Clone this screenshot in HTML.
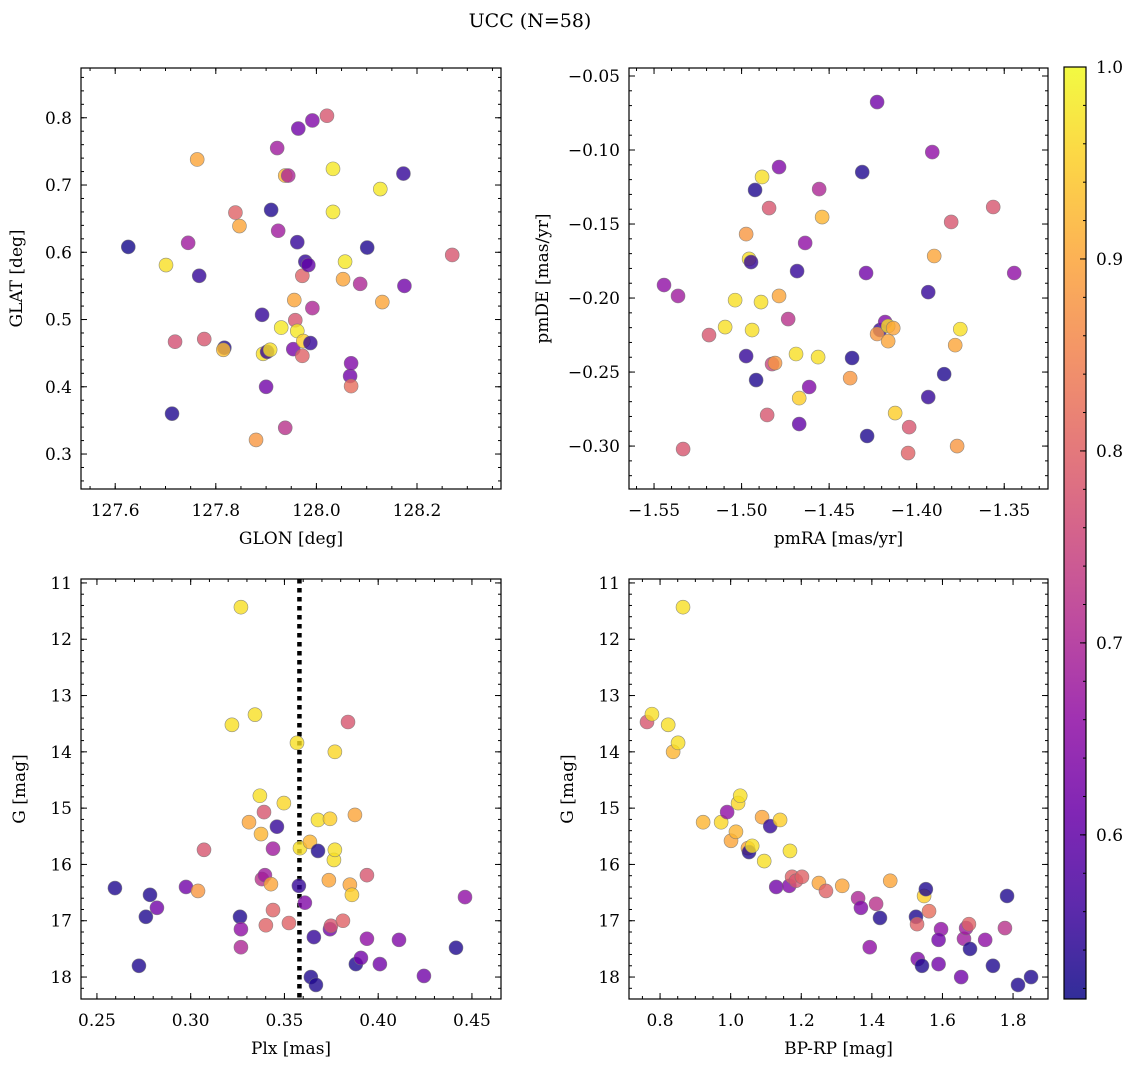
<!DOCTYPE html>
<html><head><meta charset="utf-8"><style>
body{margin:0;background:#fff;}
svg{display:block;font-family:"DejaVu Serif","Liberation Serif",serif;}
</style></head><body>
<svg id="fig" width="1136" height="1067" xmlns="http://www.w3.org/2000/svg">
<text x="530" y="27" font-size="19" text-anchor="middle">UCC (N=58)</text>
</svg>
<script>
// Panel 1: GLON / GLAT
const p1Lon=[127.626,127.701,127.713,127.745,127.719,127.767,127.763,127.777,127.817,127.815,127.839,127.847,127.880,127.894,127.892,127.902,127.908,127.900,127.910,127.922,127.924,127.930,127.938,127.944,127.938,127.954,127.956,127.958,127.962,127.964,127.962,127.972,127.972,127.974,127.978,127.984,127.988,127.992,127.992,128.021,128.033,128.033,128.053,128.057,128.067,128.069,128.069,128.087,128.101,128.127,128.131,128.173,128.175,128.270];
const p1Lat=[0.608,0.581,0.360,0.614,0.467,0.565,0.738,0.471,0.458,0.455,0.659,0.639,0.321,0.449,0.507,0.452,0.455,0.400,0.663,0.755,0.632,0.488,0.714,0.714,0.339,0.456,0.529,0.499,0.615,0.784,0.483,0.565,0.446,0.468,0.586,0.581,0.465,0.796,0.517,0.803,0.724,0.660,0.560,0.586,0.416,0.435,0.401,0.553,0.607,0.694,0.526,0.717,0.550,0.596];
const p1Prob=[.52,.97,.53,.68,.77,.55,.90,.78,.53,.93,.80,.90,.88,.97,.55,.55,.97,.62,.53,.68,.68,.98,.92,.70,.72,.63,.90,.78,.55,.62,.98,.80,.80,.95,.55,.60,.55,.64,.70,.78,.98,.98,.90,.98,.62,.64,.82,.70,.53,.98,.90,.55,.62,.78];
// Panel 2: pmRA / pmDE
const p2RA=[-1.5443,-1.5363,-1.5334,-1.5186,-1.5094,-1.5037,-1.4974,-1.4957,-1.4946,-1.4974,-1.4940,-1.4923,-1.4917,-1.4883,-1.4889,-1.4854,-1.4843,-1.4826,-1.4809,-1.4786,-1.4786,-1.4734,-1.4689,-1.4683,-1.4671,-1.4671,-1.4637,-1.4614,-1.4563,-1.4557,-1.4540,-1.4380,-1.4369,-1.4311,-1.4289,-1.4283,-1.4226,-1.4209,-1.4226,-1.4180,-1.4163,-1.4163,-1.4134,-1.4123,-1.4043,-1.4049,-1.3934,-1.3934,-1.3911,-1.3803,-1.3780,-1.3769,-1.3751,-1.3900,-1.3843,-1.3563,-1.3443];
const p2DE=[-0.1912,-0.1986,-0.302,-0.225,-0.2196,-0.2014,-0.1568,-0.1736,-0.1757,-0.2392,-0.2216,-0.127,-0.2554,-0.1182,-0.2027,-0.279,-0.1392,-0.2446,-0.2439,-0.1986,-0.1115,-0.2142,-0.2378,-0.1818,-0.2676,-0.2851,-0.1628,-0.2601,-0.2399,-0.1264,-0.1453,-0.2541,-0.2405,-0.1149,-0.1831,-0.2932,-0.0676,-0.2216,-0.2243,-0.2162,-0.2291,-0.2189,-0.2203,-0.2777,-0.2872,-0.3047,-0.2669,-0.196,-0.1014,-0.1486,-0.2318,-0.300,-0.221,-0.1716,-0.2514,-0.1385,-0.1831];
const p2Prob=[.66,.68,.78,.78,.97,.97,.88,.97,.55,.55,.97,.53,.53,.97,.97,.78,.78,.75,.88,.90,.64,.72,.97,.55,.95,.60,.66,.64,.97,.70,.92,.88,.53,.53,.62,.53,.62,.55,.88,.64,.90,.97,.90,.95,.78,.80,.55,.55,.66,.78,.90,.88,.97,.90,.53,.78,.66];
// Panel 3: Plx / G
const p3Plx=[0.2596,0.2724,0.2761,0.2783,0.282,0.2975,0.3039,0.3071,0.322,0.3268,0.3263,0.3268,0.3268,0.3311,0.3343,0.3369,0.3375,0.3380,0.3391,0.3396,0.3401,0.3428,0.3439,0.3439,0.3460,0.3497,0.3524,0.3567,0.3577,0.3583,0.3609,0.3636,0.3641,0.3657,0.3668,0.3679,0.3679,0.3743,0.3748,0.3743,0.3737,0.3764,0.3769,0.3769,0.3812,0.3839,0.3849,0.386,0.3876,0.3881,0.3908,0.3940,0.3940,0.4009,0.4111,0.4244,0.4415,0.4463];
const p3G=[16.42,17.80,16.93,16.54,16.77,16.40,16.47,15.74,13.52,11.43,16.93,17.15,17.47,15.25,13.34,14.78,15.46,16.26,15.07,16.19,17.08,16.35,15.72,16.81,15.33,14.91,17.04,13.84,16.38,15.71,16.68,15.60,18.00,17.29,18.14,15.21,15.76,17.15,17.09,15.19,16.28,15.92,15.74,14.0,17.0,13.47,16.36,16.54,15.12,17.77,17.66,17.32,16.19,17.77,17.34,17.98,17.48,16.58];
const p3Prob=[.53,.53,.53,.53,.62,.62,.88,.78,.97,.97,.53,.66,.70,.90,.97,.97,.92,.72,.78,.68,.80,.90,.68,.80,.55,.96,.80,.97,.55,.97,.64,.92,.53,.55,.53,.97,.53,.62,.78,.95,.90,.97,.97,.96,.80,.78,.90,.95,.90,.53,.62,.66,.78,.62,.64,.62,.53,.66];
const plxLine=0.358;
// Panel 4: BP-RP / G
const p4BR=[0.763,0.777,0.823,0.837,0.851,0.865,0.922,0.973,0.990,1.001,1.015,1.021,1.027,1.049,1.052,1.061,1.089,1.095,1.112,1.140,1.129,1.166,1.168,1.174,1.185,1.202,1.250,1.270,1.316,1.361,1.369,1.394,1.412,1.423,1.452,1.525,1.528,1.530,1.542,1.548,1.553,1.562,1.589,1.596,1.589,1.653,1.661,1.667,1.675,1.678,1.721,1.743,1.777,1.783,1.814,1.851];
const p4G=[13.47,13.33,13.52,14.0,13.84,11.43,15.25,15.25,15.07,15.58,15.42,14.91,14.78,15.71,15.78,15.67,15.16,15.94,15.32,15.21,16.40,16.38,15.76,16.22,16.29,16.22,16.33,16.47,16.38,16.6,16.77,17.47,16.70,16.95,16.29,16.93,17.06,17.68,17.80,16.56,16.44,16.83,17.77,17.15,17.34,18.0,17.32,17.13,17.06,17.5,17.34,17.80,17.13,16.56,18.14,18.0];
const p4Prob=[.78,.97,.97,.92,.97,.97,.92,.96,.66,.90,.92,.96,.97,.90,.53,.97,.90,.97,.55,.95,.62,.64,.97,.80,.78,.80,.90,.80,.90,.70,.64,.66,.72,.53,.90,.53,.80,.64,.53,.95,.53,.82,.62,.66,.62,.62,.68,.68,.80,.53,.66,.53,.72,.53,.53,.53];
// ticks
const p1XTicks=[127.6,127.8,128.0,128.2], p1YTicks=[0.3,0.4,0.5,0.6,0.7,0.8];
const p2XTicks=[-1.55,-1.50,-1.45,-1.40,-1.35], p2YTicks=[-0.30,-0.25,-0.20,-0.15,-0.10,-0.05];
const p3XTicks=[0.25,0.30,0.35,0.40,0.45], gTicks=[11,12,13,14,15,16,17,18];
const p4XTicks=[0.8,1.0,1.2,1.4,1.6,1.8];
const cbTicks=[0.6,0.7,0.8,0.9,1.0];
const cmin=0.5145,cmax=1.0;

const NS='http://www.w3.org/2000/svg';
const svg=document.getElementById('fig');
function mk(tag,attrs,parent){const e=document.createElementNS(NS,tag);for(const k in attrs)e.setAttribute(k,attrs[k]);(parent||svg).appendChild(e);return e;}
const stops=['#0d0887','#41049d','#6a00a8','#8f0da4','#b12a90','#cc4778','#e16462','#f2844b','#fca636','#fcce25','#f0f921'];
function hex(h){return [1,3,5].map(i=>parseInt(h.substr(i,2),16));}
function plasma(t){t=Math.max(0,Math.min(1,t));const f=t*10,i=Math.min(9,Math.floor(f)),r=f-i;const a=hex(stops[i]),b=hex(stops[i+1]);return 'rgb('+a.map((v,k)=>Math.round(v+(b[k]-v)*r)).join(',')+')';}
function col(p){return plasma((p-cmin)/(cmax-cmin));}
function fmt(v,d){const s=Math.abs(v).toFixed(d);return (v<0?'\u2212':'')+s;}
const FS=17;

function panel(o){
  const g=mk('g',{});  
  const sx=v=>o.L+(v-o.x0)/(o.x1-o.x0)*(o.R-o.L);
  const sy=o.inv? (v=>o.T+(v-o.y0)/(o.y1-o.y0)*(o.B-o.T)) : (v=>o.B-(v-o.y0)/(o.y1-o.y0)*(o.B-o.T));
  if(o.vline!==undefined){const l=mk('line',{x1:sx(o.vline),x2:sx(o.vline),y1:o.T,y2:o.B,stroke:'#000','stroke-width':4.5,'stroke-dasharray':'4.5,4.5'},g);}
  for(let i=0;i<o.xs.length;i++){
    const c=mk('circle',{cx:sx(o.xs[i]),cy:sy(o.ys[i]),r:7,fill:col(o.ps[i]),'fill-opacity':0.8,stroke:'#777','stroke-width':0.6,'stroke-opacity':0.8},g);
    
    
  }
  const fr=mk('rect',{x:o.L,y:o.T,width:o.R-o.L,height:o.B-o.T,fill:'none',stroke:'#000','stroke-width':1.2},g);
   
  const tk=(x1,y1,x2,y2)=>mk('line',{x1,y1,x2,y2,stroke:'#000','stroke-width':1},g);
  const lo=Math.min(o.x0,o.x1),hi=Math.max(o.x0,o.x1);
  for(let v=Math.ceil(lo/o.xm-1e-6)*o.xm;v<=hi;v+=o.xm){const x=sx(v);tk(x,o.B,x,o.B-3);tk(x,o.T,x,o.T+3);}
  const ylo=Math.min(o.y0,o.y1),yhi=Math.max(o.y0,o.y1);
  for(let v=Math.ceil(ylo/o.ym-1e-6)*o.ym;v<=yhi;v+=o.ym){const y=sy(v);tk(o.L,y,o.L+3,y);tk(o.R,y,o.R-3,y);}
  o.xt.forEach(v=>{const x=sx(v);tk(x,o.B,x,o.B-6);tk(x,o.T,x,o.T+6);
    const t=mk('text',{x:x,y:o.B+27,'font-size':FS,'text-anchor':'middle'},g);t.textContent=fmt(v,o.xd);
    });
  o.yt.forEach(v=>{const y=sy(v);tk(o.L,y,o.L+6,y);tk(o.R,y,o.R-6,y);
    const t=mk('text',{x:o.L-9,y:y+6,'font-size':FS,'text-anchor':'end'},g);t.textContent=fmt(v,o.yd);
    });
  const xl=mk('text',{x:(o.L+o.R)/2,y:o.B+55,'font-size':FS,'text-anchor':'middle'},g);xl.textContent=o.xlab;
  
  const yx=o.L-(o.ylx||62), yc=(o.T+o.B)/2;
  const yl=mk('text',{x:yx,y:yc,'font-size':FS,'text-anchor':'middle',transform:'rotate(-90 '+yx+' '+yc+')'},g);yl.textContent=o.ylab;
  
}
panel({name:'glon-glat-panel',L:81,R:501,T:68,B:489,x0:127.532,x1:128.367,y0:0.248,y1:0.874,xs:p1Lon,ys:p1Lat,ps:p1Prob,xt:p1XTicks,yt:p1YTicks,xm:0.05,ym:0.02,xd:1,yd:1,xlab:'GLON [deg]',ylab:'GLAT [deg]',ylx:59});
panel({name:'pm-panel',L:629,R:1048,T:68,B:489,x0:-1.5643,x1:-1.325,y0:-0.329,y1:-0.0446,xs:p2RA,ys:p2DE,ps:p2Prob,xt:p2XTicks,yt:p2YTicks,xm:0.01,ym:0.01,xd:2,yd:2,xlab:'pmRA [mas/yr]',ylab:'pmDE [mas/yr]',ylx:81});
panel({name:'plx-g-panel',L:81,R:501,T:579,B:999,x0:0.2415,x1:0.4655,y0:10.93,y1:18.39,inv:true,xs:p3Plx,ys:p3G,ps:p3Prob,xt:p3XTicks,yt:gTicks,xm:0.01,ym:0.2,xd:2,yd:0,xlab:'Plx [mas]',ylab:'G [mag]',ylx:56,vline:plxLine});
panel({name:'cmd-panel',L:629,R:1048,T:579,B:999,x0:0.712,x1:1.899,y0:10.93,y1:18.39,inv:true,xs:p4BR,ys:p4G,ps:p4Prob,xt:p4XTicks,yt:gTicks,xm:0.05,ym:0.2,xd:1,yd:0,xlab:'BP-RP [mag]',ylab:'G [mag]',ylx:56});

// colorbar
const cb=mk('g',{});  
const defs=mk('defs',{},cb); const lg=mk('linearGradient',{id:'cbg',x1:0,y1:1,x2:0,y2:0},defs);
for(let i=0;i<=20;i++){const t=i/20;mk('stop',{offset:t,'stop-color':plasma(t),'stop-opacity':0.85},lg);}
const cT=67,cB=999,cL=1064,cR=1086;
mk('rect',{x:cL,y:cT,width:cR-cL,height:cB-cT,fill:'url(#cbg)',stroke:'#000','stroke-width':1.2},cb);
const cy=v=>cB-(v-cmin)/(cmax-cmin)*(cB-cT);
for(let v=0.52;v<=1.0001;v+=0.02){mk('line',{x1:cR,x2:cR-3,y1:cy(v),y2:cy(v),stroke:'#000','stroke-width':1},cb);}
cbTicks.forEach(v=>{mk('line',{x1:cR,x2:cR-6,y1:cy(v),y2:cy(v),stroke:'#000','stroke-width':1},cb);
  const t=mk('text',{x:cR+10,y:cy(v)+6,'font-size':FS},cb);t.textContent=v.toFixed(1);
  });
</script>
</body></html>
